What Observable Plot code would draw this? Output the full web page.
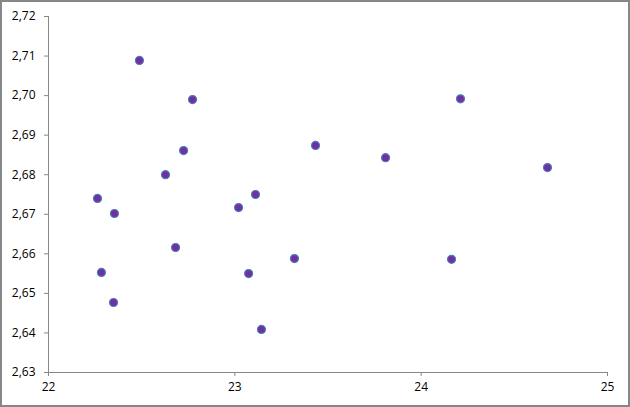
<!DOCTYPE html>
<html>
<head>
<meta charset="utf-8">
<script src="https://cdn.jsdelivr.net/npm/d3@7"></script>
<script src="https://cdn.jsdelivr.net/npm/@observablehq/plot@0.6"></script>
<style>
  html, body { margin: 0; padding: 0; background: #fff; }
  #chart svg { display: block; outline: 2px solid #878787; outline-offset: -2px; }
</style>
</head>
<body>
<div id="chart"></div>
<script>
const xValues = [22.488, 22.773, 24.211, 22.725, 23.433, 23.809, 24.678, 22.628, 22.263, 22.354,
                 23.111, 23.020, 22.682, 22.284, 23.074, 23.320, 24.163, 22.349, 23.143];
const yValues = [2.7089, 2.6990, 2.6992, 2.6861, 2.6874, 2.6843, 2.6818, 2.6800, 2.6740, 2.6702,
                 2.6750, 2.6717, 2.6616, 2.6553, 2.6550, 2.6588, 2.6586, 2.6477, 2.6409];
const xTicks = [22, 23, 24, 25];
const yTicks = [2.63, 2.64, 2.65, 2.66, 2.67, 2.68, 2.69, 2.70, 2.71, 2.72];

const points = xValues.map((x, i) => ({x, y: yValues[i]}));
const fmtY = d => d.toFixed(2).replace(".", ",");
const axisColor = "#878787";

const chart = Plot.plot({
  width: 630,
  height: 407,
  marginLeft: 48,
  marginRight: 23,
  marginTop: 16,
  marginBottom: 35,
  style: {fontFamily: "'Open Sans', sans-serif", fontSize: "12px", color: "#000", background: "#fff"},
  x: {domain: [22, 25], ticks: xTicks},
  y: {domain: [2.63, 2.72], ticks: yTicks},
  marks: [
    Plot.axisY({ticks: yTicks, tickFormat: fmtY, tickSize: 4, tickPadding: 9, stroke: axisColor, label: null, fill: "#000", fontSize: 12}),
    Plot.axisX({ticks: xTicks, tickFormat: d => String(d), tickSize: 4, tickPadding: 6, stroke: axisColor, label: null, fill: "#000", fontSize: 12}),
    Plot.ruleX([22], {stroke: axisColor}),
    Plot.ruleY([2.63], {stroke: axisColor}),
    Plot.dot(points, {x: "x", y: "y", r: 4, fill: "#7030A0", stroke: "#4A7EBB", strokeWidth: 1.2})
  ]
});
document.getElementById("chart").appendChild(chart);
</script>
</body>
</html>
